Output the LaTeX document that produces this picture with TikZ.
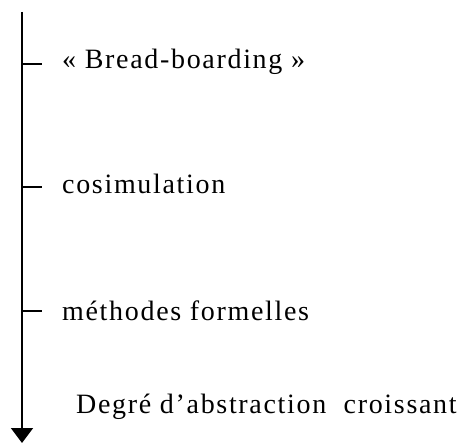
\documentclass[tikz,border=0pt]{standalone}
\usepackage{fontspec}
\setmainfont{Liberation Serif}
\newfontfamily\labelfont[LetterSpace=6]{Liberation Serif}
\usetikzlibrary{positioning,calc,arrows.meta}

\begin{document}
\begin{tikzpicture}[x=1pt,y=-1pt,
axis/.style={line width=1.6pt,-{Triangle[width=22pt,length=15pt]}},
tick/.style={line width=1.4pt},
lbl/.style={anchor=base west,inner sep=0pt,font=\labelfont\fontsize{28}{32}\selectfont}]
\useasboundingbox (0,0) rectangle (466,444);

% axis
\coordinate (top) at (22,12);
\coordinate (bot) at (22,443);
\draw[axis] (top) -- (bot);

% ticks
\coordinate (t1) at (22,64);  \coordinate (t1e) at (42,64);
\coordinate (t2) at (22,187); \coordinate (t2e) at (42,187);
\coordinate (t3) at (22,311); \coordinate (t3e) at (42,311);
\draw[tick] (t1) -- (t1e);
\draw[tick] (t2) -- (t2e);
\draw[tick] (t3) -- (t3e);

% labels
\node[lbl] (bread) at (62,69) {« Bread-boarding »};
\node[lbl] (cosim) at (62,193) {cosimulation};
\node[lbl] (formel) at (62,320) {méthodes formelles};
\node[lbl] (degre) at (76,413) {Degré d’abstraction\ \ croissant};
\end{tikzpicture}
\end{document}
